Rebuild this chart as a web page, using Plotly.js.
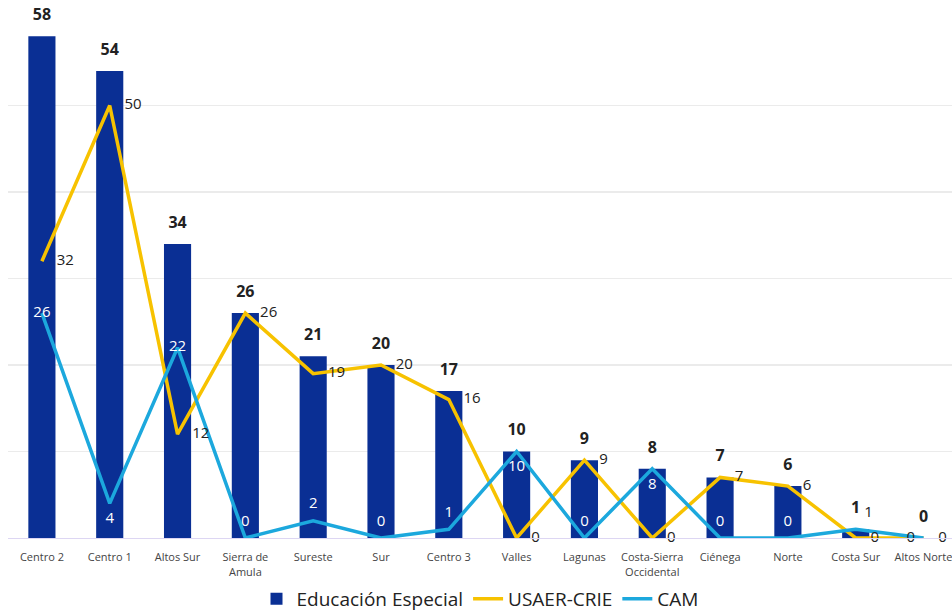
<!DOCTYPE html>
<html>
<head>
<meta charset="utf-8">
<script src="https://cdn.plot.ly/plotly-3.0.1.min.js"></script>
<style>html,body{margin:0;padding:0;background:#fff;}#chart{width:952px;height:611px;}</style>
</head>
<body>
<div id="chart"></div>
<script>
const categories = ["Centro 2","Centro 1","Altos Sur","Sierra de<br>Amula","Sureste","Sur","Centro 3","Valles","Lagunas","Costa-Sierra<br>Occidental","Ciénega","Norte","Costa Sur","Altos Norte"];
const educacionEspecial = [58,54,34,26,21,20,17,10,9,8,7,6,1,0];
const usaerCrie = [32,50,12,26,19,20,16,0,9,0,7,6,0,0];
const cam = [26,4,22,0,2,0,1,10,0,8,0,0,1,0];

const camPos = ["middle center","bottom center","middle center","top center","top center","top center","top center","bottom center","top center","bottom center","top center","top center","top right","middle left"];
const camColors = cam.map((v,i)=> i>=12 ? "#222" : "#ffffff");
const usaerPos = usaerCrie.map(()=> "middle right");

const FONT = "'Open Sans', 'Noto Sans', sans-serif";
const CLEAR = "rgba(0,0,0,0)";

const traces = [
  {
    type: "bar", name: "Educación Especial",
    x: categories, y: educacionEspecial,
    marker: {color: "#0a2f94"},
    width: 0.4,
    hoverinfo: "skip"
  },
  {
    type: "scatter", mode: "lines", name: "USAER-CRIE",
    x: categories, y: usaerCrie,
    line: {color: "#f7c200", width: 3.5},
    cliponaxis: false
  },
  {
    type: "scatter", mode: "lines", name: "CAM",
    x: categories, y: cam,
    line: {color: "#1ca8dd", width: 3.5},
    cliponaxis: false
  },
  {
    type: "scatter", mode: "markers+text", name: "USAER-CRIE (valores)", showlegend: false,
    x: categories, y: usaerCrie,
    marker: {size: 22, color: CLEAR},
    text: usaerCrie.map(String),
    textposition: usaerPos,
    textfont: {family: FONT, size: 15, color: "#222"},
    cliponaxis: false
  },
  {
    type: "scatter", mode: "markers+text", name: "CAM (valores)", showlegend: false,
    x: categories, y: cam,
    marker: {size: 12, color: CLEAR},
    text: cam.map(String),
    textposition: camPos,
    textfont: {family: FONT, size: 15, color: camColors},
    cliponaxis: false
  },
  {
    type: "scatter", mode: "markers+text", name: "Educación Especial (valores)", showlegend: false,
    x: categories, y: educacionEspecial,
    marker: {size: 18, color: CLEAR},
    text: educacionEspecial.map(String),
    textposition: "top center",
    textfont: {family: FONT, size: 16, color: "#222", weight: 700},
    cliponaxis: false
  }
];

const layout = {
  width: 952, height: 611,
  margin: {l: 8, r: 0, t: 19, b: 73},
  paper_bgcolor: "#fff", plot_bgcolor: "#fff",
  font: {family: FONT, color: "#333"},
  showlegend: true,
  legend: {orientation: "h", x: 0.5, xanchor: "center", yref: "container", y: 0.02, yanchor: "middle",
           font: {family: FONT, size: 19, color: "#222"}, traceorder: "normal"},
  xaxis: {
    type: "category", range: [-0.5, 13.42],
    tickfont: {family: FONT, size: 11, color: "#444"},
    showline: true, linecolor: "#ddd6f3", linewidth: 1,
    ticks: "", showgrid: false, automargin: false, ticklabelstandoff: 9
  },
  yaxis: {
    range: [0, 60], dtick: 10, showticklabels: false,
    gridcolor: "#ebebeb", gridwidth: 1.5, zeroline: false, automargin: false
  },
  bargap: 0.6
};

Plotly.newPlot("chart", traces, layout, {displayModeBar: false, staticPlot: true});
</script>
</body>
</html>
